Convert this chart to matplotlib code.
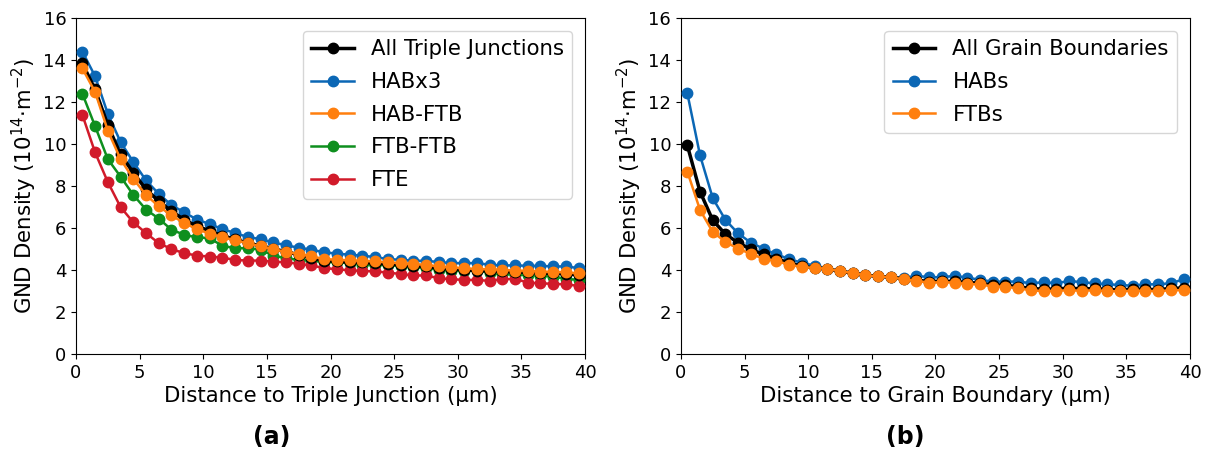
import matplotlib
matplotlib.use('Agg')
import matplotlib.pyplot as plt
import numpy as np

# bin centres (um)
dist = np.arange(0.5, 40, 1.0)

# (a) triple junctions, GND density 10^14 m^-2
all_tj = [13.84, 12.6, 10.9, 9.5, 8.64, 7.84, 7.28, 6.8, 6.4, 6.08, 5.87, 5.63, 5.47, 5.28,
          5.15, 5.0, 4.88, 4.72, 4.58, 4.45, 4.41, 4.38, 4.36, 4.33, 4.28, 4.25, 4.20, 4.17,
          4.09, 4.05, 4.01, 3.97, 3.96, 3.93, 3.90, 3.89, 3.85, 3.84, 3.81, 3.76]
habx3 = [14.4, 13.23, 11.44, 10.1, 9.15, 8.27, 7.63, 7.09, 6.75, 6.4, 6.19, 5.95, 5.76, 5.57,
         5.47, 5.31, 5.18, 5.06, 4.97, 4.84, 4.78, 4.73, 4.68, 4.62, 4.52, 4.49, 4.44, 4.44,
         4.38, 4.33, 4.33, 4.33, 4.25, 4.22, 4.22, 4.20, 4.20, 4.17, 4.17, 4.09]
hab_ftb = [13.6, 12.48, 10.64, 9.28, 8.35, 7.57, 7.04, 6.6, 6.24, 5.95, 5.73, 5.57, 5.41, 5.28,
           5.12, 5.0, 4.85, 4.77, 4.65, 4.52, 4.49, 4.46, 4.44, 4.41, 4.36, 4.33, 4.28, 4.25,
           4.17, 4.12, 4.09, 4.04, 4.04, 4.01, 3.97, 3.97, 3.92, 3.92, 3.89, 3.84]
ftb_ftb = [12.4, 10.85, 9.28, 8.45, 7.58, 6.88, 6.45, 5.92, 5.68, 5.55, 5.52, 5.15, 5.04, 5.04,
           4.96, 4.69, 4.56, 4.48, 4.45, 4.38, 4.36, 4.33, 4.25, 4.22, 4.25, 4.17, 4.12, 4.09,
           4.01, 3.96, 3.96, 3.98, 3.85, 3.81, 3.77, 3.77, 3.72, 3.69, 3.58, 3.53]
fte = [11.39, 9.6, 8.19, 7.0, 6.27, 5.76, 5.28, 5.0, 4.8, 4.69, 4.64, 4.59, 4.48, 4.45,
       4.45, 4.4, 4.37, 4.29, 4.22, 4.09, 4.04, 3.98, 3.96, 3.93, 3.88, 3.81, 3.74, 3.74,
       3.61, 3.56, 3.53, 3.53, 3.48, 3.56, 3.58, 3.40, 3.37, 3.34, 3.32, 3.24]

# (b) grain boundaries
all_gb = [9.94, 7.73, 6.37, 5.70, 5.30, 4.98, 4.74, 4.53, 4.34, 4.18, 4.10, 4.06, 3.94, 3.86,
          3.75, 3.70, 3.65, 3.58, 3.52, 3.45, 3.47, 3.46, 3.40, 3.38, 3.28, 3.28, 3.20, 3.13,
          3.08, 3.10, 3.14, 3.10, 3.12, 3.07, 3.06, 3.08, 3.08, 3.07, 3.12, 3.15]
habs = [12.42, 9.46, 7.42, 6.38, 5.74, 5.30, 5.01, 4.74, 4.53, 4.34, 4.21, 4.05, 3.94, 3.86,
        3.78, 3.72, 3.68, 3.62, 3.72, 3.66, 3.66, 3.72, 3.64, 3.53, 3.45, 3.45, 3.45, 3.37,
        3.42, 3.37, 3.48, 3.42, 3.37, 3.32, 3.29, 3.25, 3.32, 3.32, 3.37, 3.56]
ftbs = [8.69, 6.86, 5.81, 5.34, 5.01, 4.77, 4.53, 4.42, 4.26, 4.14, 4.10, 4.06, 3.94, 3.86,
        3.74, 3.70, 3.65, 3.56, 3.48, 3.40, 3.42, 3.40, 3.33, 3.32, 3.21, 3.21, 3.12, 3.04,
        2.99, 3.01, 3.04, 3.01, 3.04, 2.99, 2.99, 3.01, 3.01, 2.99, 3.04, 3.04]

c_blue = '#0b67b5'
c_orange = '#ff7f0e'
c_green = '#0e8f1e'
c_red = '#d11a2a'

plt.rcParams['font.family'] = 'DejaVu Sans'
fig = plt.figure(figsize=(12.08, 4.53), dpi=100)
ax1 = fig.add_axes([0.0629, 0.2185, 0.4214, 0.7418])
ax2 = fig.add_axes([0.5637, 0.2185, 0.4214, 0.7418])

kw = dict(marker='o', markersize=7.5, linewidth=1.8)
ax1.plot(dist, all_tj, color='black', label='All Triple Junctions', zorder=6, linewidth=2.5,
         marker='o', markersize=7.5)
ax1.plot(dist, habx3, color=c_blue, label='HABx3', zorder=3, **kw)
ax1.plot(dist, hab_ftb, color=c_orange, label='HAB-FTB', zorder=7, **kw)
ax1.plot(dist, ftb_ftb, color=c_green, label='FTB-FTB', zorder=4, **kw)
ax1.plot(dist, fte, color=c_red, label='FTE', zorder=5, **kw)

ax2.plot(dist, all_gb, color='black', label='All Grain Boundaries', zorder=4, linewidth=2.5,
         marker='o', markersize=7.5)
ax2.plot(dist, habs, color=c_blue, label='HABs', zorder=3, **kw)
ax2.plot(dist, ftbs, color=c_orange, label='FTBs', zorder=5, **kw)

for ax, xl in [(ax1, 'Distance to Triple Junction (µm)'), (ax2, 'Distance to Grain Boundary (µm)')]:
    ax.set_xlim(0, 40)
    ax.set_ylim(0, 16)
    ax.set_xticks(np.arange(0, 41, 5))
    ax.set_yticks(np.arange(0, 17, 2))
    ax.tick_params(labelsize=13)
    ax.set_xlabel(xl, fontsize=15.3, labelpad=3)
    ax.set_ylabel(r'GND Density ($10^{14}$$\cdot$m$^{-2}$)', fontsize=15.3, labelpad=3)
    ax.legend(loc='upper right', fontsize=15.3, handlelength=2.0, borderaxespad=0.6,
              labelspacing=0.6)

fig.text(0.2253, 0.035, '(a)', fontsize=17, fontweight='bold', ha='center', va='center')
fig.text(0.749, 0.035, '(b)', fontsize=17, fontweight='bold', ha='center', va='center')

plt.savefig('out.png', dpi=100)
